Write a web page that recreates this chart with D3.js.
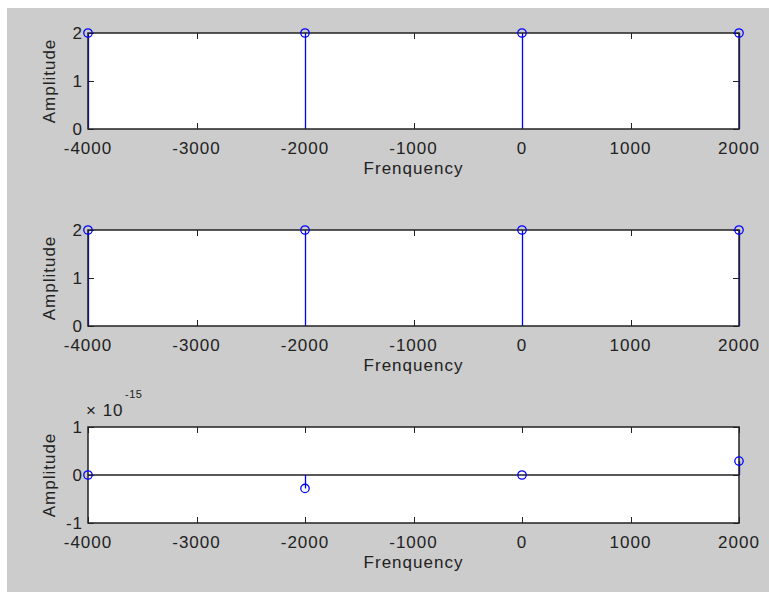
<!DOCTYPE html>
<html><head><meta charset="utf-8">
<script src="https://cdn.jsdelivr.net/npm/d3@7"></script>
<style>
html,body{margin:0;padding:0;background:#fff;}
svg{display:block;}
text{font-family:"Liberation Sans",Arial,sans-serif;fill:#222;}
</style></head><body>
<svg id="c" width="769" height="592"></svg>
<script>
const freqs = [-4000, -2000, 0, 2000];
const amp1 = [2, 2, 2, 2];
const amp2 = [2, 2, 2, 2];
const amp3 = [0, -0.28, 0, 0.29]; // ×10^-15
const xTicks = [-4000, -3000, -2000, -1000, 0, 1000, 2000];
const yTicks12 = [0, 1, 2];
const yTicks3 = [-1, 0, 1];
const xLabel = "Frenquency";
const yLabel = "Amplitude";

const svg = d3.select("#c");
svg.append("rect").attr("x",7).attr("y",8).attr("width",762).attr("height",584).attr("fill","#cccccc");

const L = 88, R = 739, H = 96;
const x = d3.scaleLinear().domain([-4000, 2000]).range([L, R]);

const panels = [
  {top: 33, vals: amp1, ydom: [0, 2], ticks: yTicks12, baseline: false, exp: false},
  {top: 230, vals: amp2, ydom: [0, 2], ticks: yTicks12, baseline: false, exp: false},
  {top: 427, vals: amp3, ydom: [-1, 1], ticks: yTicks3, baseline: true, exp: true}
];

const FS = 17, LS = "1px";

panels.forEach(p => {
  const y = d3.scaleLinear().domain(p.ydom).range([p.top + H, p.top]);
  const g = svg.append("g");
  g.append("rect").attr("x", L).attr("y", p.top).attr("width", R - L).attr("height", H).attr("fill", "#fff");

  const tl = 6;
  const tk = g.append("g").attr("stroke", "#222").attr("stroke-width", 1);
  xTicks.forEach(t => {
    const xx = Math.round(x(t)) + 0.5;
    tk.append("line").attr("x1", xx).attr("x2", xx).attr("y1", p.top + H).attr("y2", p.top + H - tl);
    tk.append("line").attr("x1", xx).attr("x2", xx).attr("y1", p.top).attr("y2", p.top + tl);
  });
  p.ticks.forEach(t => {
    const yy = Math.round(y(t)) + 0.5;
    tk.append("line").attr("x1", L).attr("x2", L + tl).attr("y1", yy).attr("y2", yy);
    tk.append("line").attr("x1", R).attr("x2", R - tl).attr("y1", yy).attr("y2", yy);
  });

  if (p.baseline) {
    g.append("line").attr("x1", L).attr("x2", R).attr("y1", y(0)).attr("y2", y(0))
      .attr("stroke", "#222").attr("stroke-width", 1.5);
  }

  g.selectAll(".stem").data(freqs).enter().append("line")
    .attr("x1", d => Math.round(x(d)) + 0.5).attr("x2", d => Math.round(x(d)) + 0.5)
    .attr("y1", y(0)).attr("y2", (d, i) => y(p.vals[i]))
    .attr("stroke", "#0000ff").attr("stroke-width", 1.3);

  g.append("rect").attr("x", L).attr("y", p.top).attr("width", R - L).attr("height", H)
    .attr("fill", "none").attr("stroke", "#222").attr("stroke-width", 1.5);

  g.selectAll(".mk").data(freqs).enter().append("circle")
    .attr("cx", d => x(d)).attr("cy", (d, i) => y(p.vals[i])).attr("r", 4.2)
    .attr("fill", "none").attr("stroke", "#0000ff").attr("stroke-width", 1.3);

  g.selectAll(".xl").data(xTicks).enter().append("text")
    .attr("x", d => x(d)).attr("y", p.top + H + 25)
    .attr("text-anchor", "middle").attr("font-size", FS).attr("letter-spacing", LS)
    .text(d => d);
  g.selectAll(".yl").data(p.ticks).enter().append("text")
    .attr("x", L - 5).attr("y", d => y(d) + 6)
    .attr("text-anchor", "end").attr("font-size", FS).attr("letter-spacing", LS)
    .text(d => d);

  g.append("text").attr("x", (L + R) / 2).attr("y", p.top + H + 45)
    .attr("text-anchor", "middle").attr("font-size", FS).attr("letter-spacing", LS).text(xLabel);
  g.append("text").attr("transform", `translate(55,${p.top + H / 2}) rotate(-90)`)
    .attr("text-anchor", "middle").attr("font-size", FS).attr("letter-spacing", LS).text(yLabel);

  if (p.exp) {
    g.append("text").attr("x", 86).attr("y", p.top - 11).attr("font-size", FS).attr("letter-spacing", LS).text("× 10");
    g.append("text").attr("x", 125).attr("y", p.top - 29).attr("font-size", 11).attr("letter-spacing", "0.5px").text("-15");
  }
});
</script></body></html>
